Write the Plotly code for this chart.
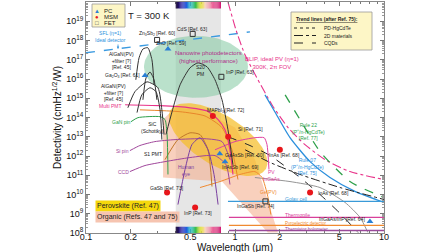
import numpy as np
import plotly.graph_objects as go

# ---------------- data ----------------
# point detectors
pc_labels = ["Ga<sub>2</sub>O<sub>3</sub> [Ref. 61]", "ZnO [Ref. 59]", "GaAsSb [Ref. 60]",
             "InAsSb [Ref. 69]", "InGaAs/InP [Ref. 64]"]
pc_wl = [0.249, 0.355, 0.79, 0.857, 8.05]
pc_d = [1.5e16, 3.6e17, 1.3e12, 5.1e11, 4.0e8]

msm_labels = ["MAPbI<sub>3</sub> [Ref. 72]", "Si [Ref. 71]", "InAs [Ref. 68]",
              "GaSb [Ref. 73]", "InP [Ref. 73]", "InAs [Ref. 68]"]
msm_wl = [0.71, 0.90, 2.0, 0.35, 0.54, 3.19]
msm_d = [1.2e14, 1.0e13, 2.1e12, 1.26e10, 2.1e9, 1.26e10]

fet_labels = ["Zn<sub>3</sub>Sb<sub>2</sub> [Ref. 60]", "CdS [Ref. 63]", "InP [Ref. 63]", "InGaSb [Ref. 74]"]
fet_wl = [0.30, 0.52, 0.81, 1.6]
fet_d = [1.07e18, 2.2e18, 1.3e16, 4.4e9]

# limit / trend curves
sfl_wl = [0.1, 1.26]
sfl_d = [2.3e17, 2.8e18]
blip_wl = [0.897, 1.016, 1.167, 1.426, 1.77, 2.27, 2.95, 4.02, 5.91, 10.0]
blip_d = [1e20, 3.5e18, 1.8e17, 9.1e15, 4.6e14, 3.0e13, 3.9e12, 6.5e11, 1.55e11, 6.0e10]
rule07_wl = [1.59, 1.85, 2.34, 3.19, 4.34, 6.38, 10.0]
rule07_d = [1.5e15, 2.0e14, 8.9e12, 5.1e11, 7.6e10, 1.45e10, 3.9e9]
rule22_wl = [2.17, 2.73, 3.72, 5.91, 10.0]
rule22_d = [1.5e15, 7.8e13, 1.7e12, 4.7e10, 6.9e9]
cqd_wl = [0.897, 1.26, 1.72, 2.73, 3.72, 5.07, 6.69]
cqd_d = [1.0e13, 3.5e12, 1.05e12, 7.6e10, 1.0e10, 1.05e9, 1.07e8]
twod_wl = [1.17, 1.72, 2.73, 5.07, 10.0]
twod_d = [2.1e12, 4.6e11, 1.1e11, 2.3e10, 5.5e9]
inas_wl = [1.36, 2.34, 3.72, 5.47, 6.90, 7.79]
inas_d = [7.6e10, 4.7e10, 2.3e10, 3.9e9, 6.5e8, 1.07e8]

# commercial detectors
golay_wl, golay_d = [0.897, 10.0], [4.4e9, 4.4e9]
thermopile_wl, thermopile_d = [0.91, 10.0], [6.5e8, 6.5e8]
pyro_wl, pyro_d = [0.91, 10.0], [2.5e8, 2.5e8]
bolo_wl, bolo_d = [0.91, 10.0], [1.35e8, 1.35e8]
ge_wl = [0.582, 0.793, 1.08, 1.36, 1.52, 1.66, 1.74]
ge_d = [2.3e10, 4.7e10, 1.1e11, 1.55e11, 7.6e10, 7.9e9, 9.1e8]
ingaas_wl = [0.734, 1.0, 1.36, 1.57, 1.64, 1.69]
ingaas_d = [2.1e12, 5.6e12, 8.9e12, 8.9e12, 3.9e12, 2.0e11]
pmt_wl = [0.183, 0.314, 0.499, 0.649, 0.770, 0.857, 0.925, 0.969]
pmt_d = [4.6e14, 4.1e14, 3.2e14, 2.2e14, 7.8e13, 2.3e13, 2.1e12, 1.1e11]
gan_wl = [0.200, 0.223, 0.314, 0.339, 0.350, 0.355]
gan_d = [6.0e13, 9.8e13, 1.1e14, 7.8e13, 1.3e13, 1.1e11]
sipin_wl = [0.197, 0.230, 0.290, 0.396, 0.629, 0.818, 0.925]
sipin_d = [1.9e12, 3.5e12, 5.6e12, 7.1e12, 7.9e12, 5.6e12, 6.5e11]
ccd_wl = [0.197, 0.249, 0.339, 0.499, 0.734, 0.871, 0.925]
ccd_d = [1.55e11, 3.2e11, 5.1e11, 8.3e11, 1.05e12, 3.5e11, 3.3e10]
s20_wl = [0.344, 0.378, 0.428, 0.499, 0.565, 0.649, 0.734, 0.818, 0.897, 0.969]
s20_d = [1.3e13, 2.0e14, 5.0e15, 3.8e16, 6.9e16, 4.3e16, 9.1e15, 8.3e14, 2.3e13, 3.5e11]
algan1_wl = [0.216, 0.227, 0.241, 0.260, 0.277, 0.286]
algan1_d = [9.1e15, 1.26e17, 3.6e17, 4.2e17, 1.0e17, 5.0e15]
algan2_wl = [0.241, 0.253, 0.269, 0.286, 0.299]
algan2_d = [8.3e14, 1.15e16, 2.3e16, 9.1e15, 8.3e14]
algan3_wl = [0.191, 0.213, 0.257, 0.304, 0.323, 0.334]
algan3_d = [3.2e14, 2.2e15, 7.1e15, 3.5e15, 2.5e14, 1.3e13]
algan4_wl = [0.220, 0.237, 0.269, 0.295, 0.314, 0.323]
algan4_d = [1.8e14, 1.5e15, 3.5e15, 2.2e15, 2.5e14, 7.1e12]
eye_wl = [0.414, 0.462, 0.514, 0.582, 0.659, 0.723, 0.770]
eye_d = [3.0e9, 2.0e11, 3.9e12, 8.9e12, 2.1e12, 1.1e11, 3.0e9]
perov1_wl = [0.230, 0.428, 0.629, 0.818, 0.954, 1.047]
perov1_d = [2.5e14, 2.0e14, 1.2e14, 3.0e13, 2.1e12, 6.0e10]
perov2_wl = [0.339, 0.414, 0.499, 0.582, 0.659, 0.701]
perov2_d = [6.5e11, 7.1e12, 1.6e13, 1.3e13, 2.1e12, 2.6e10]

# regions
organic_wl = [0.329, 0.396, 0.582, 1.0, 1.36, 1.94, 1.66, 0.818, 0.329]
organic_d = [7.8e13, 3.2e14, 2.5e14, 3.0e13, 6.5e11, 1.07e8, 1.07e8, 4.7e10, 7.6e10]

x_ticks = [0.1, 0.2, 0.5, 1, 2, 5, 10]
x_ticktext = ["0.1", "0.2", "0.5", "1", "2", "5", "10"]
y_exps = list(range(8, 21))

# ---------------- helpers (layout only) ----------------
L, R, T, B = 86, 384, 2, 233
PXX, PXY = (R - L) / 2.0, (B - T) / 12.0


def P(xp, yp):
    return (xp - L) / (R - L), (B - yp) / (B - T)


def ellipse(cwl, cd, a, b, ang):
    t = np.linspace(0, 2 * np.pi, 120)
    th = np.radians(ang)
    dx = a * np.cos(t) * np.cos(th) - b * np.sin(t) * np.sin(th)
    dy = a * np.cos(t) * np.sin(th) + b * np.sin(t) * np.cos(th)
    return 10 ** (np.log10(cwl) + dx / PXX), 10 ** (np.log10(cd) - dy / PXY)


fig = go.Figure()

# regions
fig.add_trace(go.Scatter(x=organic_wl, y=organic_d, fill="toself", mode="lines",
                         line=dict(width=0), fillcolor="rgba(244,170,135,0.55)"))
ywl, yd = ellipse(0.77, 7.1e12, 56, 25, 32)
fig.add_trace(go.Scatter(x=ywl, y=yd, fill="toself", mode="lines", line=dict(width=0),
                         fillcolor="rgba(245,190,40,0.72)"))
gwl, gd = ellipse(0.547, 4.3e16, 52, 31, 0)
fig.add_trace(go.Scatter(x=gwl, y=gd, fill="toself", mode="lines", line=dict(width=0),
                         fillcolor="rgba(130,200,160,0.55)"))

curves = [
    (sfl_wl, sfl_d, "#3a9ae0", "dash", 1.4),
    (blip_wl, blip_d, "#e8338a", "dashdot", 1.1),
    (rule07_wl, rule07_d, "#2b8fdc", "solid", 1.3),
    (rule22_wl, rule22_d, "#2ea04a", "dash", 1.3),
    (cqd_wl, cqd_d, "#222222", "dash", 1.0),
    (twod_wl, twod_d, "#222222", "dashdot", 1.0),
    (inas_wl, inas_d, "#888888", "solid", 0.9),
    (golay_wl, golay_d, "#3a9ad8", "solid", 1.3),
    (thermopile_wl, thermopile_d, "#d8409a", "solid", 1.3),
    (pyro_wl, pyro_d, "#f08a30", "solid", 1.3),
    (bolo_wl, bolo_d, "#9a4a9a", "solid", 1.3),
    (ge_wl, ge_d, "#f08a30", "solid", 1.0),
    (ingaas_wl, ingaas_d, "#e040a0", "solid", 1.0),
    (perov1_wl, perov1_d, "#e8852a", "solid", 1.0),
    (perov2_wl, perov2_d, "#c0782a", "solid", 1.0),
    (pmt_wl, pmt_d, "#e8338a", "solid", 1.2),
    (gan_wl, gan_d, "#2ea04a", "solid", 1.0),
    (sipin_wl, sipin_d, "#a0469b", "solid", 1.0),
    (ccd_wl, ccd_d, "#a0469b", "solid", 1.0),
    (eye_wl, eye_d, "#7a3fa0", "solid", 1.0),
    (s20_wl, s20_d, "#333333", "solid", 1.0),
    (algan1_wl, algan1_d, "#333333", "solid", 1.0),
    (algan2_wl, algan2_d, "#333333", "solid", 1.0),
    (algan3_wl, algan3_d, "#333333", "solid", 1.0),
    (algan4_wl, algan4_d, "#333333", "solid", 1.0),
]
for wl, d, c, dash, w in curves:
    fig.add_trace(go.Scatter(x=wl, y=d, mode="lines", line=dict(color=c, dash=dash, width=w,
                                                                 shape="spline", smoothing=0.6)))

fig.add_trace(go.Scatter(x=pc_wl, y=pc_d, mode="markers",
                         marker=dict(symbol="triangle-up", size=6, color="#2a7fd4")))
fig.add_trace(go.Scatter(x=msm_wl, y=msm_d, mode="markers",
                         marker=dict(symbol="circle", size=6, color="#e8161b")))
fig.add_trace(go.Scatter(x=fet_wl, y=fet_d, mode="markers",
                         marker=dict(symbol="square-open", size=5, color="#333333", line=dict(width=1))))

shapes = []
# visible band
shapes.append(dict(type="rect", xref="x", yref="paper", x0=0.4, x1=0.805, y0=0, y1=1,
                   fillcolor="#e6e6e6", line=dict(width=0), layer="below"))
# spectrum bars
stops = [(0.0, (16, 0, 40)), (0.12, (48, 32, 160)), (0.22, (32, 80, 224)), (0.33, (32, 190, 210)),
         (0.45, (60, 190, 70)), (0.55, (230, 230, 30)), (0.65, (250, 215, 190)),
         (0.8, (240, 110, 160)), (1.0, (210, 16, 110))]
N = 40
l0, l1 = np.log10(0.4), np.log10(0.805)
for i in range(N):
    f = (i + 0.5) / N
    for k in range(len(stops) - 1):
        if stops[k][0] <= f <= stops[k + 1][0]:
            u = (f - stops[k][0]) / (stops[k + 1][0] - stops[k][0])
            col = tuple(int(stops[k][1][j] + u * (stops[k + 1][1][j] - stops[k][1][j])) for j in range(3))
            break
    xa, xb = 10 ** (l0 + (l1 - l0) * i / N), 10 ** (l0 + (l1 - l0) * (i + 1) / N)
    for y0, y1 in [(0.972, 1.0), (0.0, 0.027)]:
        shapes.append(dict(type="rect", xref="x", yref="paper", x0=xa, x1=xb, y0=y0, y1=y1,
                           fillcolor="rgb(%d,%d,%d)" % col, line=dict(width=0), layer="above"))

# legend box (top left)
x0, y0 = P(92, 4)
x1, y1 = P(125, 27)
shapes.append(dict(type="rect", xref="paper", yref="paper", x0=x0, y0=y1, x1=x1, y1=y0,
                   fillcolor="#fdf6c6", line=dict(color="#999", width=0.8), layer="above"))
# trend box (top right)
x0, y0 = P(291, 12)
x1, y1 = P(372, 50)
shapes.append(dict(type="rect", xref="paper", yref="paper", x0=x0, y0=y1, x1=x1, y1=y0,
                   fillcolor="#fdf6c6", line=dict(color="#999", width=0.8), layer="above"))
for yy, dsh in [(28, "dot"), (35.5, "dashdot"), (43, "dash")]:
    a0, b0 = P(294, yy)
    a1, _ = P(316, yy)
    shapes.append(dict(type="line", xref="paper", yref="paper", x0=a0, x1=a1, y0=b0, y1=b0,
                       line=dict(color="#222", width=1, dash=dsh), layer="above"))

ann = []
F = "Liberation Sans, Arial, sans-serif"


def txt(s, xp, yp, color="#222", size=5, xanchor="center", **kw):
    px, py = P(xp, yp)
    ann.append(dict(text=s, x=px, y=py, xref="paper", yref="paper", showarrow=False,
                    xanchor=xanchor, yanchor="middle", font=dict(size=size, color=color, family=F),
                    align="center", **kw))


# marker labels
def mlabels(labels, wl, d, offs):
    for s, w, v, (xa, dx, dy) in zip(labels, wl, d, offs):
        ann.append(dict(text=s, x=np.log10(w), y=np.log10(v), xref="x", yref="y", showarrow=False,
                        xanchor=xa, yanchor="middle", xshift=dx, yshift=dy,
                        font=dict(size=5, color="#222", family=F)))


mlabels(pc_labels, pc_wl, pc_d, [("right", -3, 0), ("center", 4, 6), ("left", 3, -1),
                                 ("left", -5, -5), ("right", -3, 2)])
mlabels(msm_labels, msm_wl, msm_d, [("left", -8, 5), ("left", 8, 8), ("center", 5, -5),
                                    ("center", 0, 5), ("center", 3, -5), ("left", 6, 0)])
mlabels(fet_labels, fet_wl, fet_d, [("center", 0, 6), ("center", 0, 5), ("left", 3, 5),
                                    ("center", -9, -5)])

txt("T = 300 K", 149, 16, size=9.5)
txt("SFL (η=1)<br>Ideal detector", 110, 37, color="#2b8fdc", size=5)
txt("Nanowire photodetectors<br>(highest performance)", 208, 57, color="#b0308a", size=6)
txt("S20<br>PM", 200, 70)
txt("AlGaN(PV)<br>+filter [?]<br>[Ref. 45]", 121, 60)
txt("AlGaN(PV)<br>+filter [?]<br>[Ref. 45]", 113, 92)
txt("Multi PMT", 110, 106, color="#e8338a")
txt("GaN pin", 121, 122, color="#2ea04a")
txt("SiC<br>(Schottky)", 152, 128)
txt("Si pin", 122, 151, color="#a0469b")
txt("S1 PMT", 153, 154)
txt("CCD", 123, 172, color="#a0469b")
txt("Human<br>eye", 186, 170, color="#7a3fa0")
txt("Ge(PV)", 268, 192, color="#f08a30")
txt("PV<br>InGaAs", 271, 175, color="#e040a0")
txt("BLIP, ideal PV (η=1)<br>300K, 2π FOV", 272, 63, color="#e8338a", size=6)
txt("Rule 07<br>(P<sup>+</sup>/n-HgCdTe)<br>[Ref. 75]", 307, 166, color="#2b8fdc")
txt("Rule 22<br>(P<sup>+</sup>/n-HgCdTe)<br>[Ref. 77]", 308, 131, color="#2ea04a")
txt("Golay cell", 283, 199, color="#3a9ad8", xanchor="left")
txt("Thermopile", 283, 215, color="#d8409a", xanchor="left")
txt("Pyroelectric detector", 283, 223, color="#f08a30", size=4.5, xanchor="left")
txt("Thermistor bolometer", 283, 229.5, color="#9a4a9a", size=4.5, xanchor="left")
# legend entries
txt("▲", 97, 11, color="#2a7fd4", size=6)
txt("●", 97, 17, color="#e8161b", size=6)
txt("□", 97, 23, color="#333", size=6)
txt("PC", 102, 11, size=6, xanchor="left")
txt("MSM", 102, 17, size=6, xanchor="left")
txt("FET", 102, 23, size=6, xanchor="left")
# trend lines box
txt("<b><u>Trend lines (after Ref. 75):</u></b>", 294, 19, size=5, xanchor="left")
txt("PD-HgCdTe", 322, 28, xanchor="left")
txt("2D materials", 322, 35.5, xanchor="left")
txt("CQDs", 322, 43, xanchor="left")
# material boxes
txt("Perovskite (Ref. 47)", 95, 206, size=7, xanchor="left", bgcolor="#f5d80c", borderpad=1)
txt("Organic (Refs. 47 and 75)", 95, 217, size=7, xanchor="left", bgcolor="#f6c4b0", borderpad=1)
# x-axis title
txt("Wavelength (μm)", 235, 248, color="#111", size=10, borderpad=0)
# SFL arrow
ax_, ay_ = P(118, 49)
ann.append(dict(x=ax_, y=ay_, xref="paper", yref="paper", text="", showarrow=True, arrowhead=2,
                arrowsize=0.6, arrowwidth=0.8, arrowcolor="#2b8fdc", ax=0, ay=-6))

fig.update_layout(
    width=448, height=252, margin=dict(l=L, r=448 - R, t=T, b=252 - B),
    plot_bgcolor="white", paper_bgcolor="white", showlegend=False,
    font=dict(family=F, size=9, color="#111"), shapes=shapes, annotations=ann,
)
fig.update_xaxes(type="log", range=[-1, 1], tickvals=x_ticks, ticktext=x_ticktext,
                 ticks="inside", ticklen=4, tickcolor="#777", mirror="allticks", showline=True,
                 linecolor="#888", linewidth=1, showgrid=False, zeroline=False,
                 tickfont=dict(size=9), ticklabelstandoff=-5,
                 minor=dict(ticks="inside", ticklen=2, tickcolor="#777",
                            tickvals=[0.3, 0.4, 0.6, 0.7, 0.8, 0.9, 3, 4, 6, 7, 8, 9]))
fig.update_yaxes(type="log", range=[8, 20], tickvals=[10.0 ** e for e in y_exps],
                 ticktext=["10<sup>%d</sup>" % e for e in y_exps],
                 ticks="inside", ticklen=4, tickcolor="#777", mirror="allticks", showline=True,
                 linecolor="#888", linewidth=1, showgrid=False, zeroline=False,
                 tickfont=dict(size=9),
                 minor=dict(ticks="inside", ticklen=2, tickcolor="#999",
                            tickvals=[m * 10.0 ** e for e in range(8, 20) for m in range(2, 10)]),
                 title=dict(text="Detectivity (cmHz<sup>1/2</sup>/W)", font=dict(size=10), standoff=2))

fig.write_html("out.html", config={"displayModeBar": False},
               post_script="document.body.style.margin='0';document.body.style.padding='0';")
